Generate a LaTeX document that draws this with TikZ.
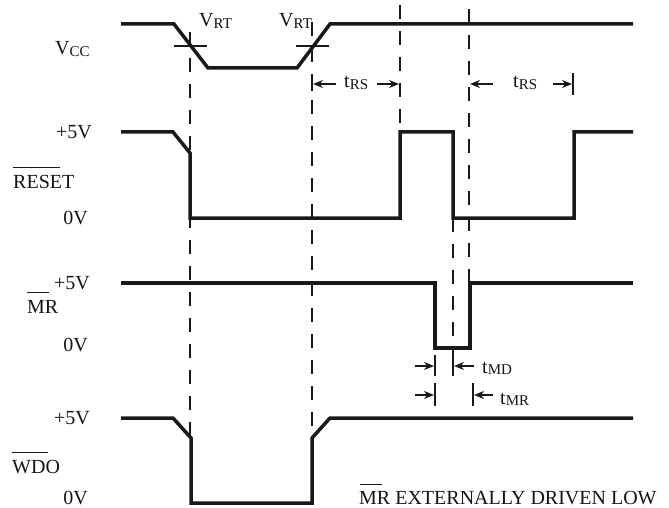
\documentclass[tikz,border=0pt]{standalone}
\usepackage{fontspec}
\setmainfont{Liberation Serif}
\usetikzlibrary{arrows.meta}
\newcommand{\lsub}[1]{\raisebox{-1.5pt}{\fontsize{15}{17}\selectfont #1}}
\begin{document}
\begin{tikzpicture}[x=1pt,y=-1pt,
  sig/.style={line width=3.5pt,draw=black!90,line join=miter},
  guide/.style={line width=1.5pt,dash pattern=on 14pt off 12pt,draw=black!90},
  tickln/.style={line width=1.2pt,draw=black!90},
  bar/.style={line width=1pt,draw=black!90},
  dim/.style={line width=1.6pt,draw=black!90,-{Stealth[length=10pt,width=8pt]}},
  lbl/.style={inner sep=0pt,text=black!92,font=\fontsize{20}{23}\selectfont}]
\useasboundingbox (0,0) rectangle (669,508);

% signals
\draw[sig] (121,24) -- (174,24) -- (208,68) -- (297,68) -- (330,24) -- (633,24);
\draw[sig] (121,132) -- (173,132) -- (190,153) -- (190,218) -- (400,218) -- (400,132)
  -- (453,132) -- (453,218) -- (574,218) -- (574,132) -- (633,132);
\draw[sig] (121,283) -- (435,283) -- (435,348) -- (470,348) -- (470,283) -- (633,283);
\draw[sig] (121,418) -- (173,418) -- (191,438) -- (191,503) -- (312,503) -- (312,438)
  -- (330,418) -- (633,418);

% guide lines
\draw[guide] (190,32) -- (190,437);
\draw[guide] (312,22) -- (312,437);
\draw[guide] (400,5) -- (400,131);
\draw[guide] (469,9) -- (469,283);
\draw[guide] (453,218) -- (453,352);

% VRT crosses
\draw[tickln] (174,46) -- (207,46);
\draw[tickln] (296,46) -- (329,46);

% ticks
\draw[tickln] (312,77) -- (312,91);
\draw[tickln] (573,73) -- (573,95);
\draw[tickln] (435,355) -- (435,376);
\draw[tickln] (453,352) -- (453,376);
\draw[tickln] (435,383) -- (435,406);
\draw[tickln] (473,383) -- (473,406);

% dimension arrows
\draw[dim] (336,84) -- (313,84);
\draw[dim] (377,84) -- (399,84);
\draw[dim] (493,84) -- (470,84);
\draw[dim] (553,84) -- (572,84);
\draw[dim] (415,366) -- (434,366);
\draw[dim] (474,366) -- (454,366);
\draw[dim] (415,395) -- (434,395);
\draw[dim] (493,395) -- (474,395);

% labels
\node[lbl,anchor=base west] (vcc) at (55,55) {V\lsub{CC}};
\node[lbl,anchor=base west] (vrt1) at (199,27) {V\lsub{RT}};
\node[lbl,anchor=base west] (vrt2) at (279,27) {V\lsub{RT}};
\node[lbl,anchor=base west] (trs1) at (344,88) {t\lsub{RS}};
\node[lbl,anchor=base west] (trs2) at (513,88) {t\lsub{RS}};
\node[lbl,anchor=base west] (tmd) at (482,373) {t\lsub{MD}};
\node[lbl,anchor=base west] (tmr) at (500,404) {t\lsub{MR}};

\node[lbl,anchor=east] (r5) at (92,132) {+5V};
\node[lbl,anchor=west] (rst) at (13,182) {RESET};
\node[lbl,anchor=east] (r0) at (88,218) {0V};
\draw[bar] (13,167) -- (60,167);

\node[lbl,anchor=east] (m5) at (90,283) {+5V};
\node[lbl,anchor=west] (mr) at (27,307) {MR};
\node[lbl,anchor=east] (m0) at (88,345) {0V};
\draw[bar] (27,292) -- (49,292);

\node[lbl,anchor=east] (w5) at (90,418) {+5V};
\node[lbl,anchor=west] (wdo) at (12,467) {WDO};
\node[lbl,anchor=east] (w0) at (88,498) {0V};
\draw[bar] (12,452) -- (48,452);

\node[lbl,anchor=west] (note) at (359,498) {MR EXTERNALLY DRIVEN LOW};
\draw[bar] (360,484) -- (382,484);
\end{tikzpicture}
\end{document}
